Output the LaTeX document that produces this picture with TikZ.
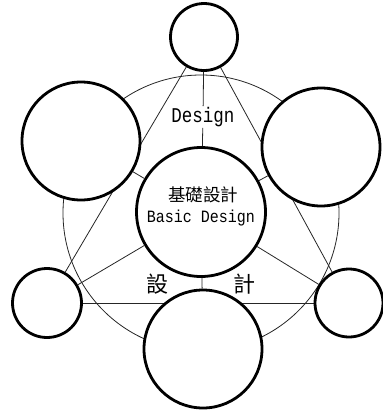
\documentclass[tikz,border=0pt]{standalone}
\usepackage{fontspec}
\newfontfamily\monofnt{Liberation Mono}
\newfontfamily\cjkfnt{Noto Sans CJK TC}
\usetikzlibrary{backgrounds}
\begin{document}
\begin{tikzpicture}[x=1pt,y=-1pt,
  ring/.style={circle,draw=black,line width=2.8pt,fill=white,inner sep=0pt,minimum size=#1},
  thin/.style={draw=black!85,line width=0.8pt},
  lbl/.style={inner sep=1pt,font=\monofnt\fontsize{17.5}{20}\selectfont},
  cjklbl/.style={inner sep=0pt,font=\cjkfnt\fontsize{22}{24}\selectfont}]
\useasboundingbox (0,0) rectangle (383,413);
\node[ring=129pt] (c)  at (201,212) {};
\node[ring=67pt]  (t)  at (204,37)  {};
\node[ring=118pt] (ul) at (81,141)  {};
\node[ring=118pt] (ur) at (321,147) {};
\node[ring=69pt]  (ll) at (47,303)  {};
\node[ring=68pt]  (lr) at (349,303) {};
\node[ring=118pt] (b)  at (203,349) {};
\node[lbl] (dsg) at (203,117) {\scalebox{1}[1.2]{Design}};
\node[inner sep=0pt,font=\cjkfnt\fontsize{17.5}{20}\selectfont] (kj) at (203,195) {基礎設計};
\node[inner sep=0pt,font=\monofnt\fontsize{15}{18}\selectfont] (bd) at (201,218) {\scalebox{1}[1.15]{Basic Design}};
\node[cjklbl] (s1) at (157,284) {設};
\node[cjklbl] (s2) at (244,284) {計};
\begin{pgfonlayer}{background}
  \coordinate (o) at (201,213);
  \draw[thin] (o) circle[radius=138pt];
  \draw[thin] (t) -- (ll);
  \draw[thin] (t) -- (lr);
  \draw[thin] (ll) -- (lr);
\end{pgfonlayer}
\draw[thin] (c) -- (dsg);
\draw[thin] (dsg) -- (t);
\draw[thin] (c) -- (ul);
\draw[thin] (c) -- (ur);
\draw[thin] (c) -- (ll);
\draw[thin] (c) -- (lr);
\draw[thin] (c) -- (b);
\end{tikzpicture}
\end{document}
